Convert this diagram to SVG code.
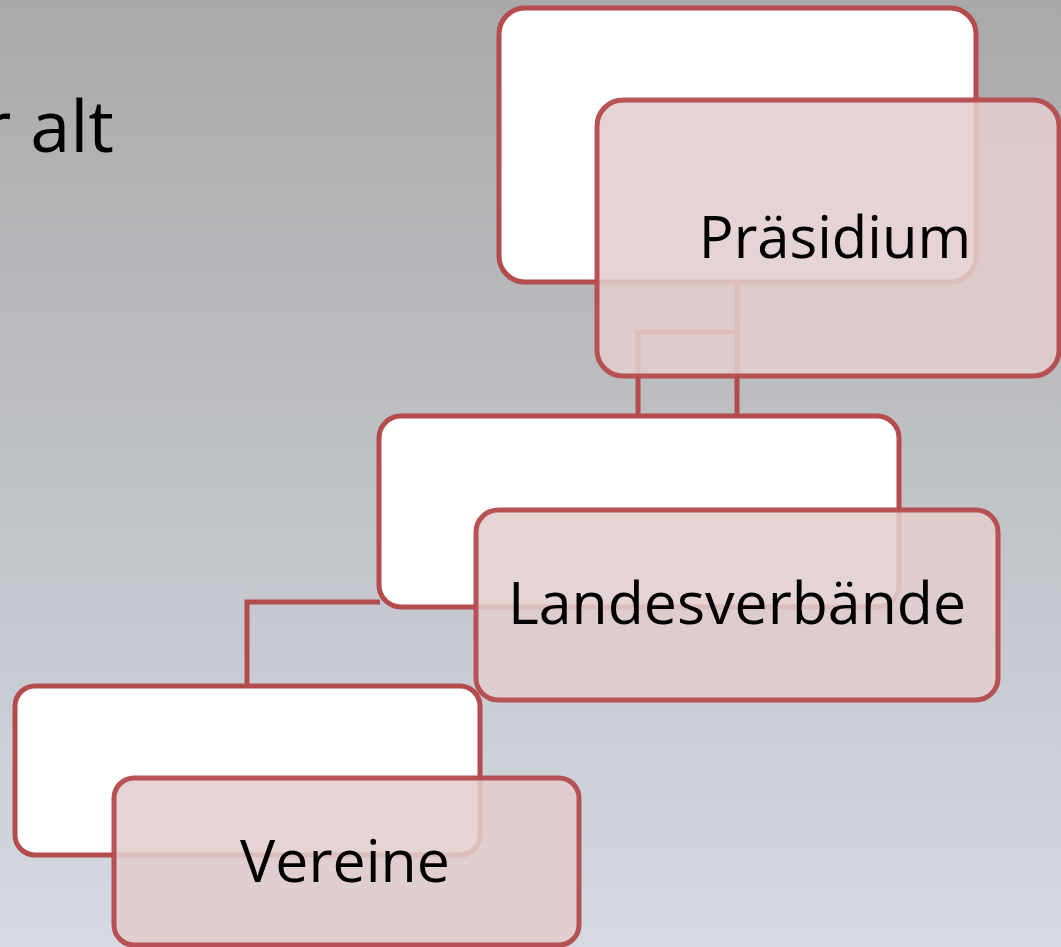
<svg xmlns="http://www.w3.org/2000/svg" width="1061" height="947" viewBox="0 0 1061 947">
<defs>
<linearGradient id="bg" x1="0" y1="0" x2="0" y2="1">
<stop offset="0" stop-color="#a9a9a9"/>
<stop offset="1" stop-color="#d5dae3"/>
</linearGradient>
<style>
.w{fill:#ffffff;stroke:#b44b4d;stroke-width:5}
.p{fill:#e2cdcd;fill-opacity:0.88;stroke:#b44b4d;stroke-width:5;stroke-opacity:0.95}
.c{fill:none;stroke:#b44b4d;stroke-width:5}
.t{font-family:"Open Sans","Noto Sans",sans-serif;fill:#000000}
</style>
</defs>
<rect x="0" y="0" width="1061" height="947" fill="url(#bg)"/>
<text class="t" x="-18" y="152" font-size="72">r alt</text>
<g id="connectors">
<path class="c" d="M737,282 V415 M737,332 H638 V415"/>
<path class="c" d="M380,602 H247 V685"/>
</g>
<g id="praesidium">
<rect class="w" x="499" y="8" width="477" height="274" rx="26"/>
<rect class="p" x="597" y="100" width="462" height="276" rx="26"/>
<text class="t" x="835" y="258" font-size="58" text-anchor="middle">Präsidium</text>
</g>
<g id="landesverbaende">
<rect class="w" x="379" y="416" width="520" height="191" rx="22"/>
<rect class="p" x="476" y="510" width="522" height="190" rx="22"/>
<text class="t" x="737" y="624" font-size="59" text-anchor="middle">Landesverbände</text>
</g>
<g id="vereine">
<rect class="w" x="15" y="686" width="465" height="169" rx="20"/>
<rect class="p" x="114" y="778" width="465" height="167" rx="20"/>
<text class="t" x="345" y="882" font-size="59" text-anchor="middle">Vereine</text>
</g>
</svg>
